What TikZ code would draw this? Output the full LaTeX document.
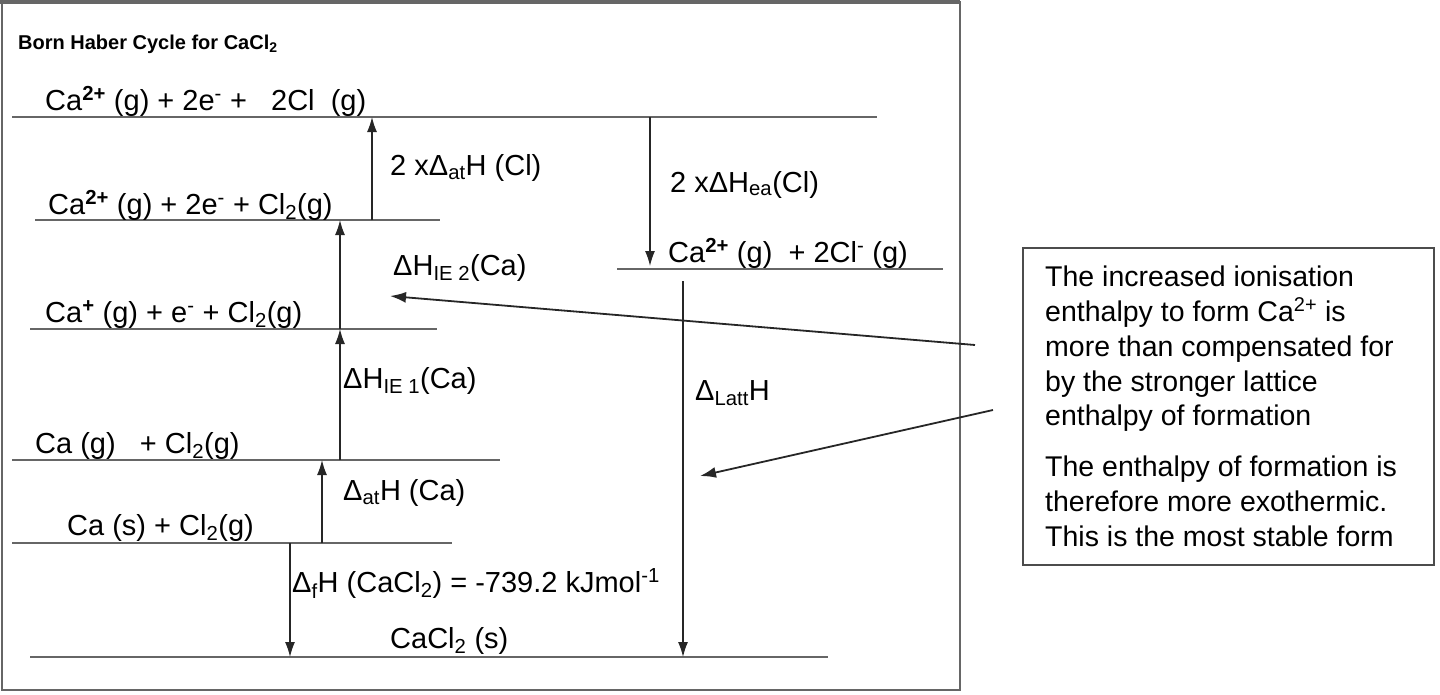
\documentclass[tikz,border=0pt]{standalone}
\usepackage{fontspec}
\setmainfont{Liberation Sans}
\usetikzlibrary{arrows.meta}
\newcommand{\lsub}[1]{\textsubscript{#1}}
\begin{document}
\begin{tikzpicture}
		[x=1pt,y=-1pt,
		level/.style={draw=black!60,line width=2.2pt},
		textstyle/.style={anchor=base west,inner sep=0pt,font=\fontsize{29}{32}\selectfont},
		note/.style={anchor=base west,inner sep=0pt,font=\fontsize{28.5}{32}\selectfont},
		energy/.style={-{Latex[length=15pt,width=10pt]},line width=1.3pt,black!85},
		pointer/.style={-{Latex[length=16pt,width=11pt]},line width=1.8pt,black!85}]
		\useasboundingbox (0,0) rectangle (1440,694);
		\draw[black!60,line width=2pt] (2,2) rectangle (960,690);
		\draw[black!60,line width=4pt] (0,2) -- (960,2);
		\node[textstyle,font=\bfseries\fontsize{20}{22}\selectfont] (title) at (18,49) {Born Haber Cycle for CaCl\lsub{2}};
		% levels
		\draw[level] (12,117) -- (877,117);
		\draw[level] (35,220) -- (440,220);
		\draw[level] (617,269) -- (943,269);
		\draw[level] (30,329) -- (437,329);
		\draw[level] (12,460) -- (500,460);
		\draw[level] (12,543) -- (452,543);
		\draw[level] (30,657) -- (828,657);
		\node[textstyle] (l1) at (45,110) {Ca\textsuperscript{\textbf{2+}} (g) + 2e\textsuperscript{-} + \ \ 2Cl \ (g)};
		\node[textstyle] (l2) at (48,214) {Ca\textsuperscript{\textbf{2+}} (g) + 2e\textsuperscript{-} + Cl\lsub{2}(g)};
		\node[textstyle] (l3) at (668,262) {Ca\textsuperscript{\textbf{2+}} (g) \ + 2Cl\textsuperscript{-} (g)};
		\node[textstyle] (l4) at (45,322) {Ca\textsuperscript{\textbf{+}} (g) + e\textsuperscript{-} + Cl\lsub{2}(g)};
		\node[textstyle] (l5) at (35,453) {Ca (g) \ \ + Cl\lsub{2}(g)};
		\node[textstyle] (l6) at (67,535) {Ca (s) + Cl\lsub{2}(g)};
		\node[textstyle] (l7) at (390,648) {CaCl\lsub{2} (s)};
		% arrow ends
		\coordinate (a1) at (372,220); \coordinate (b1) at (372,117);
		\coordinate (a2) at (340,329); \coordinate (b2) at (340,220);
		\coordinate (a3) at (340,460); \coordinate (b3) at (340,329);
		\coordinate (a4) at (322,543); \coordinate (b4) at (322,460);
		\coordinate (a5) at (290,543); \coordinate (b5) at (290,657);
		\coordinate (a6) at (650,117); \coordinate (b6) at (650,266);
		\coordinate (a7) at (683,281); \coordinate (b7) at (683,657);
		\draw[energy] (a1) -- (b1);
		\draw[energy] (a2) -- (b2);
		\draw[energy] (a3) -- (b3);
		\draw[energy] (a4) -- (b4);
		\draw[energy] (a5) -- (b5);
		\draw[energy] (a6) -- (b6);
		\draw[energy] (a7) -- (b7);
		\node[textstyle] (e1) at (390,175) {2 xΔ\lsub{at}H (Cl)};
		\node[textstyle] (e2) at (393,275) {ΔH\lsub{IE 2}(Ca)};
		\node[textstyle] (e3) at (343,388) {ΔH\lsub{IE 1}(Ca)};
		\node[textstyle] (e4) at (343,500) {Δ\lsub{at}H (Ca)};
		\node[textstyle] (e5) at (292,592) {Δ\lsub{f}H (CaCl\lsub{2}) = -739.2 kJmol\textsuperscript{-1}};
		\node[textstyle] (e6) at (670,192) {2 xΔH\lsub{ea}(Cl)};
		\node[textstyle] (e7) at (695,400) {Δ\lsub{Latt}H};
		% note box
		\draw[black!70,line width=1.5pt] (1023,248) rectangle (1434,565);
		\node[note] (n1) at (1045,286) {The increased ionisation};
		\node[note] (n2) at (1045,321) {enthalpy to form Ca\textsuperscript{2+} is};
		\node[note] (n3) at (1045,356) {more than compensated for};
		\node[note] (n4) at (1045,391) {by the stronger lattice};
		\node[note] (n5) at (1045,425) {enthalpy of formation};
		\node[note] (n6) at (1045,476) {The enthalpy of formation is};
		\node[note] (n7) at (1045,511) {therefore more exothermic.};
		\node[note] (n8) at (1045,546) {This is the most stable form};
		\coordinate (p1) at (975,345); \coordinate (q1) at (390,296);
		\coordinate (p2) at (993,410); \coordinate (q2) at (700,476);
		\draw[pointer] (p1) -- (q1);
		\draw[pointer] (p2) -- (q2);
	\end{tikzpicture}
\end{document}
